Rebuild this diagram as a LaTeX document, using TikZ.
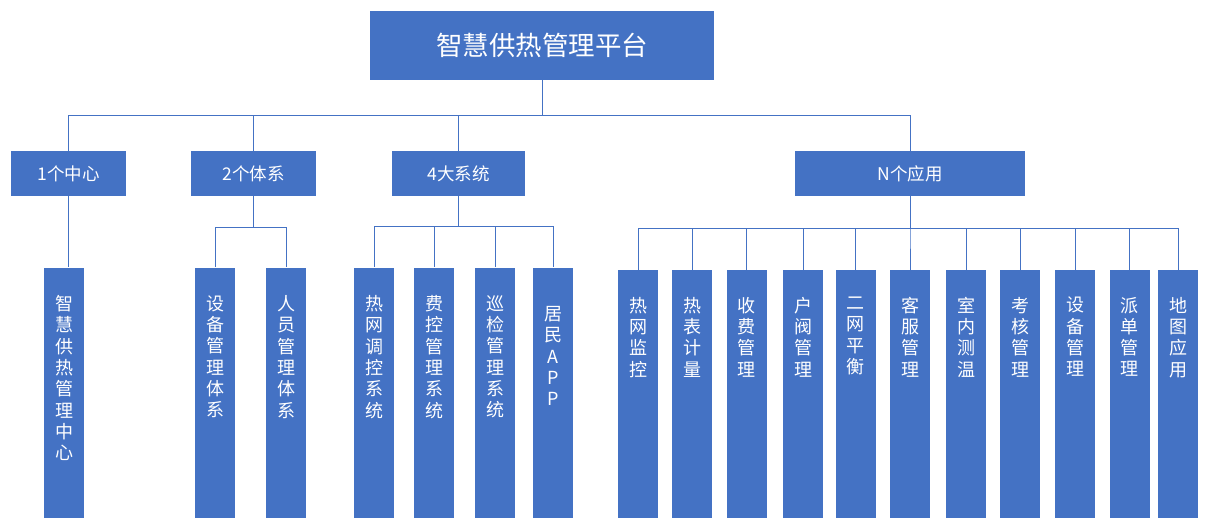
\documentclass[tikz,border=0pt]{standalone}
\usepackage{fontspec}
\setmainfont{Noto Sans CJK SC}
\usetikzlibrary{positioning}
\definecolor{boxblue}{HTML}{4472C4}
\tikzset{
	platform/.style={fill=boxblue, text=white, inner sep=0pt, minimum width=344pt, minimum height=69pt, font=\fontsize{26.5}{30}\selectfont},
	part/.style={fill=boxblue, text=white, inner sep=0pt, minimum height=45pt, font=\fontsize{17.5}{20}\selectfont},
	leaf/.style={fill=boxblue, inner sep=0pt, minimum width=40pt, minimum height=250pt},
	leaftext/.style={text=white, inner sep=0pt, align=center, font=\fontsize{18}{21.3}\selectfont},
	link/.style={draw=boxblue, line width=1pt}
}
\begin{document}
\begin{tikzpicture}[x=1pt,y=-1pt]
	\useasboundingbox (0,0) rectangle (1208,530);
	
	\node [platform] (top) at (542,45.5) {智慧供热管理平台};
	
	\node [part, minimum width=115pt] (c1) at (68.5,173.5) {1个中心};
	\node [part, minimum width=125pt] (c2) at (253.5,173.5) {2个体系};
	\node [part, minimum width=133pt] (c3) at (458.5,173.5) {4大系统};
	\node [part, minimum width=230pt] (c4) at (910,173.5) {N个应用};
	
	\foreach \c in {c1,c2,c3,c4}
	{
		\draw [link] (top.south) -- ++(0,35) -| (\c.north);
	}
	
	% left leaves
	\foreach \n/\x/\txt in {l1/64/{智\\慧\\供\\热\\管\\理\\中\\心}, l2/215/{设\\备\\管\\理\\体\\系}, l3/286/{人\\员\\管\\理\\体\\系}, l4/374/{热\\网\\调\\控\\系\\统}, l5/434/{费\\控\\管\\理\\系\\统}, l6/495/{巡\\检\\管\\理\\系\\统}}
	{
		\node [leaf] (\n) at (\x,392.5) {};
		\node [leaftext, below=28pt of \n.north] (\n t) {\txt};
	}
	\node [leaf] (l7) at (553,392.5) {};
	\node [leaftext, below=39pt of l7.north] (l7t) {居\\民\\A\\P\\P};
	
	% right leaves
	\foreach \n/\x/\txt in {r1/638/{热\\网\\监\\控}, r2/692/{热\\表\\计\\量}, r3/746.5/{收\\费\\管\\理}, r4/803/{户\\阀\\管\\理}, r5/855.5/{二\\网\\平\\衡}, r6/910/{客\\服\\管\\理}, r7/966/{室\\内\\测\\温}, r8/1020/{考\\核\\管\\理}, r9/1075/{设\\备\\管\\理}, r10/1129.5/{派\\单\\管\\理}, r11/1178/{地\\图\\应\\用}}
	{
		\node [leaf, minimum height=248pt] (\n) at (\x,394) {};
		\node [leaftext, below=27pt of \n.north] (\n t) {\txt};
		\draw [link] (c4.south) -- ++(0,32) -| (\n.north);
	}
	
	\draw [link] (c1.south) -- (c1.south |- l1.north);
	\foreach \n in {l2,l3}
		\draw [link] (c2.south) -- ++(0,31) -| (\n.north);
	\foreach \n in {l4,l5,l6,l7}
		\draw [link] (c3.south) -- ++(0,30) -| (\n.north);
	
\end{tikzpicture}
\end{document}
